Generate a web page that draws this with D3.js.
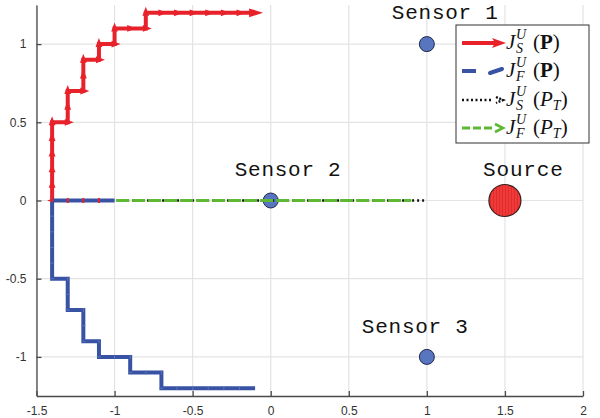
<!DOCTYPE html>
<html><head><meta charset="utf-8">
<script src="https://cdn.jsdelivr.net/npm/d3@7"></script>
<style>body{margin:0;background:#fff}</style>
</head><body><svg id="c" width="600" height="418"></svg>
<script>
// ---- data ----
const xTicks = [-1.5, -1, -0.5, 0, 0.5, 1, 1.5, 2];
const xTickLabels = ["-1.5", "-1", "-0.5", "0", "0.5", "1", "1.5", "2"];
const yTicks = [-1, -0.5, 0, 0.5, 1];
const yTickLabels = ["-1", "-0.5", "0", "0.5", "1"];

// J_S^U(P) path
const redX = [-1.4,-1.4,-1.4,-1.4,-1.4,-1.4,-1.3,-1.3,-1.3,-1.2,-1.2,-1.2,-1.1,-1.1,-1.0,-1.0,-0.9,-0.8,-0.8,-0.7,-0.6,-0.5,-0.4,-0.3,-0.2,-0.1];
const redY = [0,0.1,0.2,0.3,0.4,0.5,0.5,0.6,0.7,0.7,0.8,0.9,0.9,1.0,1.0,1.1,1.1,1.1,1.2,1.2,1.2,1.2,1.2,1.2,1.2,1.2];
// J_F^U(P) path
const blueX = [-1.4,-1.4,-1.4,-1.4,-1.4,-1.4,-1.3,-1.3,-1.3,-1.2,-1.2,-1.2,-1.1,-1.1,-1.0,-0.9,-0.9,-0.8,-0.7,-0.7,-0.6,-0.5,-0.4,-0.3,-0.2,-0.1];
const blueY = [0,-0.1,-0.2,-0.3,-0.4,-0.5,-0.5,-0.6,-0.7,-0.7,-0.8,-0.9,-0.9,-1.0,-1.0,-1.0,-1.1,-1.1,-1.1,-1.2,-1.2,-1.2,-1.2,-1.2,-1.2,-1.2];
// shared start along y = 0
const startX = [-1.4,-1.3,-1.2,-1.1,-1.0];
const startY = [0,0,0,0,0];
// J_S^U(P_T) path
const blackX = [-1.4,-1.3,-1.2,-1.1,-1.0,-0.9,-0.8,-0.7,-0.6,-0.5,-0.4,-0.3,-0.2,-0.1,0,0.1,0.2,0.3,0.4,0.5,0.6,0.7,0.8,0.9,1.0];
const blackY = blackX.map(() => 0);
// J_F^U(P_T) path
const greenX = [-1.4,-1.3,-1.2,-1.1,-1.0,-0.9,-0.8,-0.7,-0.6,-0.5,-0.4,-0.3,-0.2,-0.1,0,0.1,0.2,0.3,0.4,0.5,0.6,0.7,0.8,0.9];
const greenY = greenX.map(() => 0);

const sensorNames = ["Sensor 1", "Sensor 2", "Sensor 3"];
const sensorX = [1, 0, 1];
const sensorY = [1, 0, -1];
const sourceName = "Source";
const sourceX = [1.5];
const sourceY = [0];

// ---- drawing ----
const svg = d3.select("#c");
const x = d3.scaleLinear().domain([-1.5, 2]).range([36.5, 583]);
const y = d3.scaleLinear().domain([-1.25, 1.25]).range([396, 5]);

const RED = "#e8222b", BLUE = "#3953a4", GREEN = "#5db834";

// grid
svg.append("g").selectAll("line").data(xTicks).join("line")
  .attr("x1", d => x(d)).attr("x2", d => x(d)).attr("y1", y(1.25)).attr("y2", y(-1.25))
  .attr("stroke", "#e3e3e3").attr("stroke-width", 1.2);
svg.append("g").selectAll("line").data(yTicks).join("line")
  .attr("y1", d => y(d)).attr("y2", d => y(d)).attr("x1", x(-1.5)).attr("x2", x(2))
  .attr("stroke", "#e3e3e3").attr("stroke-width", 1.2);

// axes
const xAxis = d3.axisBottom(x).tickValues(xTicks).tickSizeInner(-5).tickSizeOuter(0)
  .tickPadding(10).tickFormat((d, i) => xTickLabels[i]);
const yAxis = d3.axisLeft(y).tickValues(yTicks).tickSizeInner(-5).tickSizeOuter(0)
  .tickPadding(10).tickFormat((d, i) => yTickLabels[i]);
const gx = svg.append("g").attr("transform", `translate(0,${y(-1.25)})`).call(xAxis);
const gy = svg.append("g").attr("transform", `translate(${x(-1.5)},0)`).call(yAxis);
[gx, gy].forEach(g => {
  g.select(".domain").attr("stroke", "#4a4a4a").attr("stroke-width", 1.3);
  g.selectAll(".tick line").attr("stroke", "#4a4a4a").attr("stroke-width", 1.3);
  g.selectAll(".tick text").attr("fill", "#333").style("font-family", "Liberation Sans, Arial, sans-serif").style("font-size", "12px");
});

// sensors & source
const sensors = sensorX.map((v, i) => ({x: v, y: sensorY[i], name: sensorNames[i]}));
svg.append("g").selectAll("circle").data(sensors).join("circle")
  .attr("cx", d => x(d.x)).attr("cy", d => y(d.y)).attr("r", 7.5)
  .attr("fill", "#5875c0").attr("stroke", "#1f2a4a").attr("stroke-width", 1);
const defs = svg.append("defs");
const pat = defs.append("pattern").attr("id", "hatch").attr("width", 3).attr("height", 6)
  .attr("patternUnits", "userSpaceOnUse");
pat.append("rect").attr("width", 3).attr("height", 6).attr("fill", "#f03a3a");
pat.append("line").attr("x1", 1.5).attr("x2", 1.5).attr("y1", 0).attr("y2", 6)
  .attr("stroke", "#d42424").attr("stroke-width", 0.6);
svg.append("g").selectAll("circle").data(sourceX.map((v, i) => ({x: v, y: sourceY[i]}))).join("circle")
  .attr("cx", d => x(d.x)).attr("cy", d => y(d.y)).attr("r", 16)
  .attr("fill", "url(#hatch)").attr("stroke", "#3a2020").attr("stroke-width", 1.2);

// labels (offsets relative to marker)
const labelOffsets = [[-35, -25], [-36, -25], [-65, -24]];
svg.append("g").selectAll("text").data(sensors).join("text")
  .attr("x", (d, i) => x(d.x) + labelOffsets[i][0]).attr("y", (d, i) => y(d.y) + labelOffsets[i][1])
  .attr("textLength", 106).attr("lengthAdjust", "spacing")
  .style("font-family", "Liberation Mono, Courier New, monospace").style("font-size", "21px")
  .attr("fill", "#111").text(d => d.name);
svg.append("text").attr("x", x(sourceX[0]) - 22).attr("y", y(sourceY[0]) - 25)
  .attr("textLength", 80).attr("lengthAdjust", "spacing")
  .style("font-family", "Liberation Mono, Courier New, monospace").style("font-size", "21px")
  .attr("fill", "#111").text(sourceName);

const line = d3.line().x(d => x(d[0])).y(d => y(d[1]));
const zip = (a, b) => a.map((v, i) => [v, b[i]]);

// P_T paths
svg.append("path").attr("d", line(zip(blackX, blackY))).attr("fill", "none")
  .attr("stroke", "#111").attr("stroke-width", 2.6).attr("stroke-dasharray", "2,3");
svg.append("path").attr("d", line(zip(greenX, greenY))).attr("fill", "none")
  .attr("stroke", GREEN).attr("stroke-width", 3.2).attr("stroke-dasharray", "13,3")
  .attr("stroke-dashoffset", 0);

// arrowheads helper
function heads(pts, color, back, fwd, hw, g) {
  for (let i = 1; i < pts.length; i++) {
    const x0 = x(pts[i-1][0]), y0 = y(pts[i-1][1]), x1 = x(pts[i][0]), y1 = y(pts[i][1]);
    const L = Math.hypot(x1 - x0, y1 - y0); const ux = (x1 - x0) / L, uy = (y1 - y0) / L;
    const last = i === pts.length - 1;
    const f = last ? fwd + 2 : fwd, b = last ? back + 3 : back, h = last ? hw + 1 : hw;
    const tx = x1 + ux * f, ty = y1 + uy * f, bx = x1 - ux * b, by = y1 - uy * b;
    g.append("path").attr("d", `M${tx},${ty}L${bx - uy * h},${by + ux * h}L${bx + uy * h},${by - ux * h}Z`)
      .attr("fill", color);
  }
}

// red path
const redPts = zip(redX, redY);
svg.append("path").attr("d", line(redPts)).attr("fill", "none").attr("stroke", RED)
  .attr("stroke-width", 4).attr("stroke-linejoin", "miter");
heads(redPts, RED, 3, 6, 3.4, svg.append("g"));

// blue path
const bluePts = zip(blueX, blueY);
svg.append("path").attr("d", line(bluePts)).attr("fill", "none").attr("stroke", BLUE)
  .attr("stroke-width", 4).attr("stroke-linejoin", "miter");
const notch = svg.append("g");
bluePts.slice(1, -1).forEach((p, i) => {
  const prev = bluePts[i], horiz = prev[1] === p[1];
  notch.append("line")
    .attr("x1", x(p[0]) - (horiz ? 0 : 2)).attr("x2", x(p[0]) + (horiz ? 0 : 2))
    .attr("y1", y(p[1]) - (horiz ? 2 : 0)).attr("y2", y(p[1]) + (horiz ? 2 : 0))
    .attr("stroke", "#5a72b8").attr("stroke-width", 1);
});

// shared start along y=0
const startPts = zip(startX, startY);
svg.append("path").attr("d", line(startPts)).attr("fill", "none").attr("stroke", BLUE).attr("stroke-width", 4);
svg.append("g").selectAll("rect").data(startPts.slice(1, -1)).join("rect")
  .attr("x", d => x(d[0]) - 1).attr("y", d => y(d[1]) - 2.5).attr("width", 2).attr("height", 5)
  .attr("fill", RED);
svg.append("path").attr("d", `M${x(-1.4) - 5},${y(0)}L${x(-1.4) + 1},${y(0) - 2}L${x(-1.4) + 1},${y(0) + 2}Z`).attr("fill", RED);

// legend
const lg = svg.append("g");
lg.append("rect").attr("x", 456).attr("y", 25).attr("width", 133).attr("height", 118)
  .attr("fill", "#fff").attr("stroke", "#333").attr("stroke-width", 1);
const legendRows = [43, 71, 100, 128];
// row 1 red arrow
lg.append("line").attr("x1", 462).attr("x2", 496).attr("y1", legendRows[0]).attr("y2", legendRows[0])
  .attr("stroke", RED).attr("stroke-width", 4);
lg.append("path").attr("d", `M506,${legendRows[0]}L492,${legendRows[0]-5}L495,${legendRows[0]}L492,${legendRows[0]+5}Z`).attr("fill", RED);
// row 2 blue dashed
lg.append("line").attr("x1", 462).attr("x2", 476).attr("y1", legendRows[1]).attr("y2", legendRows[1])
  .attr("stroke", BLUE).attr("stroke-width", 4);
lg.append("path").attr("d", `M490,${legendRows[1]+2}L502,${legendRows[1]-2}`)
  .attr("stroke", BLUE).attr("stroke-width", 4).attr("stroke-linecap", "round");
// row 3 black dotted
lg.append("line").attr("x1", 462).attr("x2", 492).attr("y1", legendRows[2]).attr("y2", legendRows[2])
  .attr("stroke", "#111").attr("stroke-width", 2.4).attr("stroke-dasharray", "2,2.5");
lg.append("path").attr("d", `M496,${legendRows[2]-3}L503,${legendRows[2]}L496,${legendRows[2]+3}`)
  .attr("stroke", "#111").attr("fill", "none").attr("stroke-width", 2.4).attr("stroke-dasharray", "2,1.5");
// row 4 green dashed
lg.append("line").attr("x1", 462).attr("x2", 493).attr("y1", legendRows[3]).attr("y2", legendRows[3])
  .attr("stroke", GREEN).attr("stroke-width", 3).attr("stroke-dasharray", "8,3");
lg.append("path").attr("d", `M495,${legendRows[3]-4}L503,${legendRows[3]}L495,${legendRows[3]+4}`)
  .attr("stroke", GREEN).attr("fill", "none").attr("stroke-width", 2.6);

const legendSub = ["S", "F", "S", "F"];
const legendArg = ["P", "P", "PT", "PT"];
const serif = "Latin Modern Roman, DejaVu Serif, Liberation Serif, serif";
legendRows.forEach((ry, i) => {
  const base = ry + 6;
  lg.append("text").attr("x", 506).attr("y", base).style("font-family", "Liberation Serif, serif")
    .style("font-size", "21px").style("font-style", "italic").attr("fill", "#111").text("J");
  lg.append("text").attr("x", 516).attr("y", base - 10).style("font-family", "Liberation Serif, serif")
    .style("font-size", "14px").style("font-style", "italic").attr("fill", "#111").text("U");
  lg.append("text").attr("x", 516).attr("y", base + 4).style("font-family", "Liberation Serif, serif")
    .style("font-size", "14px").style("font-style", "italic").attr("fill", "#111").text(legendSub[i]);
  if (legendArg[i] === "P") {
    const t = lg.append("text").attr("x", 533).attr("y", base).style("font-family", "Liberation Serif, serif")
      .style("font-size", "21px").attr("fill", "#111");
    t.append("tspan").text("(");
    t.append("tspan").style("font-weight", "bold").text("P");
    t.append("tspan").text(")");
  } else {
    const t = lg.append("text").attr("x", 533).attr("y", base).style("font-family", "Liberation Serif, serif")
      .style("font-size", "21px").attr("fill", "#111");
    t.append("tspan").text("(");
    t.append("tspan").style("font-style", "italic").text("P");
    t.append("tspan").attr("dy", 4).style("font-size", "14px").style("font-style", "italic").text("T");
    t.append("tspan").attr("dy", -4).text(")");
  }
});
</script>
</body></html>
